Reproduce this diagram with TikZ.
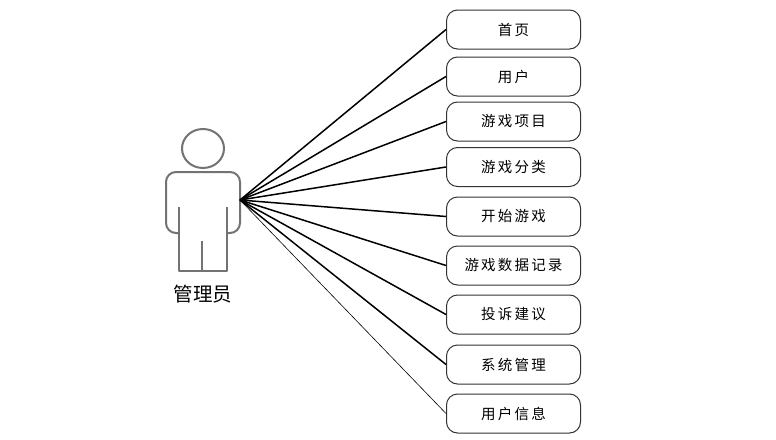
\documentclass[tikz,border=0pt]{standalone}
\usepackage{fontspec}
\newfontfamily\cjk[LetterSpace=15]{Noto Sans CJK SC}
\newfontfamily\cjkbig{Noto Sans CJK SC}
\tikzset{
  uc/.style={draw=black!80,line width=1pt,rounded corners=11pt,minimum width=134pt,minimum height=39pt,inner sep=0pt,font=\cjk\fontsize{14.5}{16}\selectfont,text=black},
  lbl/.style={inner sep=0pt,font=\cjk\fontsize{14.5}{16}\selectfont,text=black},
  link/.style={draw=black,line width=1.5pt},
  thinlink/.style={draw=black,line width=0.6pt},
  person/.style={draw=black!55,line width=2pt,line join=round}
}
\begin{document}
\begin{tikzpicture}[x=1pt,y=-1pt]
\useasboundingbox (0,0) rectangle (776,439);
\fill[white] (0,0) rectangle (776,439);
% actor
\draw[person] (203,148.5) ellipse [x radius=21,y radius=19.5];
\draw[person,rounded corners=10pt] (179,233) -- (166,233) -- (166,172) -- (240,172) -- (240,233) -- (227,233);
\draw[person] (179,207) -- (179,271) -- (227,271) -- (227,207);
\draw[person] (202,241) -- (202,271);
\coordinate (hub) at (240,200);
\node (actor) at (203,294) {\cjkbig\fontsize{19.5}{21}\selectfont 管理员};
% use cases
\node[uc] (a) at (513.5,29.5) {\raisebox{-0.7pt}{首页}};
\node[uc] (b) at (513.5,76.5) {\raisebox{-0.7pt}{用户}};
\node[uc] (c) at (513.5,121.5) {\raisebox{-0.7pt}{游戏项目}};
\node[uc] (d) at (513.5,167) {\raisebox{-0.7pt}{游戏分类}};
\node[uc] (e) at (513.5,216.5) {\raisebox{-0.7pt}{开始游戏}};
\node[uc] (f) at (513.5,265.5) {\raisebox{-0.7pt}{游戏数据记录}};
\node[uc] (g) at (513.5,314.5) {\raisebox{-0.7pt}{投诉建议}};
\node[uc] (h) at (513.5,364.5) {\raisebox{-0.7pt}{系统管理}};
\node[uc] (i) at (513.5,413.5) {\raisebox{-0.7pt}{用户信息}};
% connectors
\foreach \n in {a,b,c,d,e,f,g,h}{\draw[link] (hub) -- (\n.west);}
\draw[thinlink] (hub) -- (i.west);
\end{tikzpicture}
\end{document}
